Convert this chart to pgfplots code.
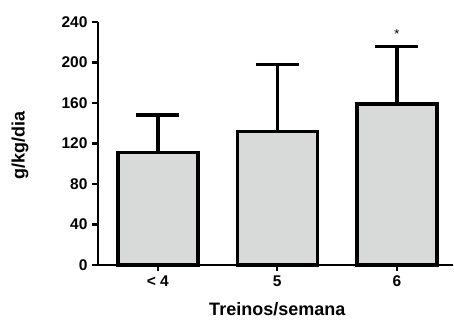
\documentclass[border=0pt]{standalone}
\usepackage{fontspec}
\setmainfont{Liberation Sans}
\usepackage{pgfplots}
\pgfplotsset{compat=1.18}
\definecolor{barfill}{HTML}{D8D9D9}
\begin{document}
\begin{tikzpicture}
\path[use as bounding box] (-98pt,-55pt) rectangle (356pt,265pt);
\begin{axis}[
  at={(0pt,0pt)}, anchor=south west,
  scale only axis,
  width=355pt, height=243pt,
  xmin=-0.5, xmax=2.47,
  ymin=0, ymax=240,
  axis x line*=bottom,
  axis y line*=left,
  axis line style={line width=2.2pt},
  xtick={0,1,2},
  xticklabels={{< 4},{5},{6}},
  ytick={0,40,80,120,160,200,240},
  tick align=outside,
  major tick length=6pt,
  tick style={line width=2.2pt, black},
  /pgf/number format/assume math mode=true,
  ticklabel style={font=\fontsize{15.5}{15.5}\selectfont\bfseries},
  xticklabel style={yshift=-1pt},
  yticklabel style={xshift=-1pt},
  xlabel={Treinos/semana},
  ylabel={g/kg/dia},
  xlabel style={at={(axis description cs:0.505,-0.181)}, anchor=center, font=\fontsize{18}{18}\selectfont\bfseries},
  ylabel style={at={(axis description cs:-0.22,0.49)}, anchor=center, rotate=0, font=\fontsize{18}{18}\selectfont\bfseries},
  clip=false,
]
\addplot[ybar, bar width=80pt, fill=barfill, draw=black, line width=3.5pt,
  error bars/.cd, y dir=plus, y explicit,
  error bar style={line width=3.5pt, black},
  error mark options={rotate=90, mark size=21.5pt, line width=3.5pt, black}]
  coordinates {(0,111) +- (0,37) (1,132) +- (0,66) (2,159) +- (0,57)};
\node[font=\fontsize{13}{13}\selectfont, anchor=base] at (axis cs:2,224) {*};
\end{axis}
\end{tikzpicture}
\end{document}
